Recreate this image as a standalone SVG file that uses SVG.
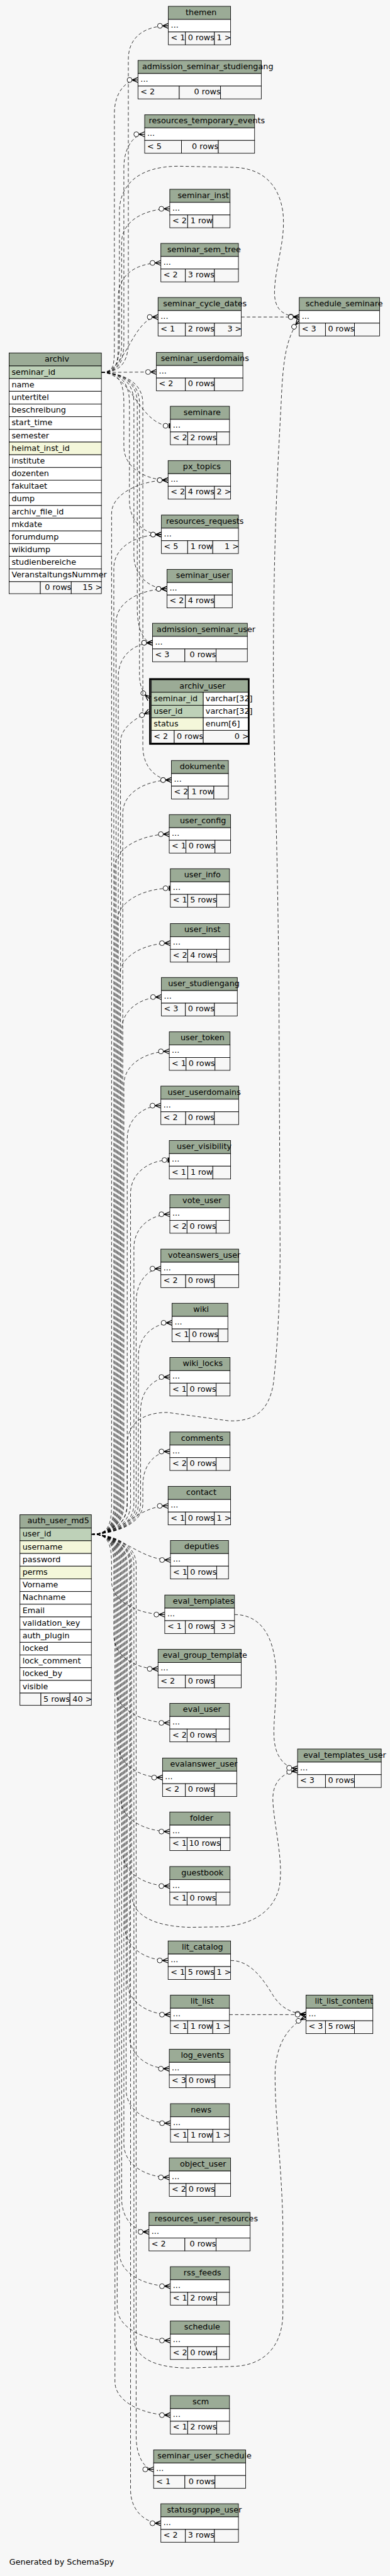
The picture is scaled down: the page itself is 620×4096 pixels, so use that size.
<svg xmlns="http://www.w3.org/2000/svg" width="620" height="4096" viewBox="0 0 620 4096">
<style>
.h{fill:#9bab96;stroke:#000;stroke-width:1}
.w{fill:#fff;stroke:#000;stroke-width:1}
.f{fill:#f7f7f7;stroke:#000;stroke-width:1}
.pk{fill:#bed1b8;stroke:#000;stroke-width:1}
.ix{fill:#f4f7da;stroke:#000;stroke-width:1}
text{font-family:"DejaVu Sans","Liberation Sans",sans-serif;font-size:14.4px;fill:#000}
.m{text-anchor:middle}
.e{text-anchor:end}
.c{fill:none;stroke:#000;stroke-width:0.9;stroke-dasharray:6 4}
.cr{marker-end:url(#crow)}
.on{marker-end:url(#one)}
</style>
<defs>
<marker id="crow" markerUnits="userSpaceOnUse" viewBox="-21 -6 22 12" markerWidth="22" markerHeight="12" refX="0" refY="0" orient="auto">
<circle cx="-15" cy="0" r="4.4" fill="#fff" stroke="#000" stroke-width="1"/>
<path d="M-10.5 0 L0 -4.5 M-10.5 0 L0 0 M-10.5 0 L0 4.5" fill="none" stroke="#000" stroke-width="1.4"/>
</marker>
<marker id="one" markerUnits="userSpaceOnUse" viewBox="-14 -6 15 12" markerWidth="15" markerHeight="12" refX="0" refY="0" orient="auto">
<circle cx="-8.6" cy="0" r="4.4" fill="#fff" stroke="#000" stroke-width="1"/>
<rect x="-3" y="-4.5" width="3" height="9" fill="#000"/>
</marker>
</defs>
<rect x="0" y="0" width="620" height="4096" fill="#f7f7f7"/>
<g transform="scale(0.887)">
<g id="connectors">
<path class="c cr" d="M181.7 667.7 C209.7 667.7 230 655.7 230 612.7 L230 106.3 C230 68.3 256.7 46.3 301.7 46.3"/>
<path class="c cr" d="M181.7 667.7 C205 667.7 205 655.7 205 612.7 L205 203.3 C205 165.3 226 143.3 247.3 143.3"/>
<path class="c cr" d="M181.7 667.7 C208 667.7 222 655.7 222 612.7 L222 300.7 C222 262.7 240.7 240.7 259.3 240.7"/>
<path class="c cr" d="M181.7 667.7 C208 667.7 218 655.7 218 612.7 L218 434.3 C218 396.3 259.3 374.3 304.3 374.3"/>
<path class="c cr" d="M181.7 667.7 C208 667.7 212 655.7 212 612.7 L212 531.3 C212 493.3 243.3 471.3 288.3 471.3"/>
<path class="c cr" d="M181.7 667.7 C225 667.7 238 568.3 283.3 568.3"/>
<path class="c cr" d="M181.7 667.7 L280.3 666.7"/>
<path class="c cr" d="M181.7 667.7 C205 667.7 214 655 214 612 L214 380 C214 330 250 298 320 298 L420 300 C470 302 500 330 507 380 C513 430 492 480 492 525 C492 552 505 567 536.3 568.3"/>
<path class="c on" d="M181.7 667.7 C235 667.7 250 763.3 305.3 763.3"/>
<path class="c cr" d="M181.7 667.7 C209.7 667.7 222 679.7 222 722.7 L222 800.7 C222 838.7 261.7 860.7 301.3 860.7"/>
<path class="c cr" d="M181.7 667.7 C209.7 667.7 232 679.7 232 722.7 L232 898.3 C232 936.3 260.7 958.3 289.3 958.3"/>
<path class="c cr" d="M181.7 667.7 C209.7 667.7 240 679.7 240 722.7 L240 995.7 C240 1033.7 269.7 1055.7 299.3 1055.7"/>
<path class="c cr" d="M181.7 667.7 C209.7 667.7 246 679.7 246 722.7 L246 1092.3 C246 1130.3 259.7 1152.3 273.3 1152.3"/>
<path class="c cr" d="M181.7 667.7 C209.7 667.7 250 679.7 250 722.7 L250 1210 C250 1230 256 1242 268 1252.7"/>
<path class="c cr" d="M181.7 667.7 C209.7 667.7 256 679.7 256 722.7 L256 1338.3 C256 1376.3 281.7 1398.3 307.3 1398.3"/>
<path class="c cr" d="M163.7 2750.3 C191.7 2750.3 200 2738.3 200 2695.3 L200 920.7 C200 882.7 256.3 860.7 301.3 860.7"/>
<path class="c cr" d="M163.7 2750.3 C191.7 2750.3 204 2738.3 204 2695.3 L204 1018.3 C204 980.3 244.3 958.3 289.3 958.3"/>
<path class="c cr" d="M163.7 2750.3 C191.7 2750.3 208 2738.3 208 2695.3 L208 1115.7 C208 1077.7 254.3 1055.7 299.3 1055.7"/>
<path class="c cr" d="M163.7 2750.3 C191.7 2750.3 212 2738.3 212 2695.3 L212 1212.3 C212 1174.3 242.6 1152.3 273.3 1152.3"/>
<path class="c cr" d="M163.7 2750.3 C191.7 2750.3 216 2738.3 216 2695.3 L216 1330 C216 1305 242 1288 268 1275.5"/>
<path class="c cr" d="M163.7 2750.3 C191.7 2750.3 220 2738.3 220 2695.3 L220 1458.3 C220 1420.3 262.3 1398.3 307.3 1398.3"/>
<path class="c cr" d="M163.7 2750.3 C191.7 2750.3 206 2738.3 206 2695.3 L206 1555.3 C206 1517.3 258.3 1495.3 303.3 1495.3"/>
<path class="c on" d="M163.7 2750.3 C191.7 2750.3 210 2738.3 210 2695.3 L210 1652.3 C210 1614.3 260.3 1592.3 305.3 1592.3"/>
<path class="c cr" d="M163.7 2750.3 C191.7 2750.3 214 2738.3 214 2695.3 L214 1750.7 C214 1712.7 260.3 1690.7 305.3 1690.7"/>
<path class="c cr" d="M163.7 2750.3 C191.7 2750.3 218 2738.3 218 2695.3 L218 1847.3 C218 1809.3 253.7 1787.3 289.3 1787.3"/>
<path class="c cr" d="M163.7 2750.3 C191.7 2750.3 222 2738.3 222 2695.3 L222 1944.7 C222 1906.7 262.7 1884.7 303.4 1884.7"/>
<path class="c cr" d="M163.7 2750.3 C191.7 2750.3 228 2738.3 228 2695.3 L228 2042 C228 2004 258.2 1982 288.3 1982"/>
<path class="c on" d="M163.7 2750.3 C191.7 2750.3 234 2738.3 234 2695.3 L234 2139.5 C234 2101.5 268.7 2079.5 303.4 2079.5"/>
<path class="c cr" d="M163.7 2750.3 C191.7 2750.3 240 2738.3 240 2695.3 L240 2236.7 C240 2198.7 272.2 2176.7 304.4 2176.7"/>
<path class="c cr" d="M163.7 2750.3 C191.7 2750.3 244 2738.3 244 2695.3 L244 2334.2 C244 2296.2 266.2 2274.2 288.3 2274.2"/>
<path class="c cr" d="M163.7 2750.3 C191.7 2750.3 248 2738.3 248 2695.3 L248 2431.3 C248 2393.3 278.2 2371.3 308.3 2371.3"/>
<path class="c cr" d="M163.7 2750.3 C191.7 2750.3 252 2738.3 252 2695.3 L252 2528.5 C252 2490.5 278.2 2468.5 304.4 2468.5"/>
<path class="c cr" d="M163.7 2750.3 C191.7 2750.3 256 2738.3 256 2695.3 L256 2662 C256 2624 280.2 2602 304.4 2602"/>
<path class="c cr" d="M163.7 2750.3 C220 2750.3 245 2699.5 301.3 2699.5"/>
<path class="c cr" d="M163.7 2750.3 C191.7 2750.3 228 2738 228 2695 L228 2590 C228 2550 258 2532 300 2532 L410 2547 C455 2549 482 2530 490 2480 C497 2420 502 2330 502 2240 L500 1800 C498 1500 490 1350 490 1200 C490 950 500 800 504 720 C507 650 512 605 536.3 574"/>
<path class="c cr" d="M163.7 2750.3 C220 2750.3 250 2796.5 305.5 2796.5"/>
<path class="c cr" d="M163.7 2750.3 C191.7 2750.3 200 2762.3 200 2805.3 L200 2834.3 C200 2872.3 250.3 2894.3 295.3 2894.3"/>
<path class="c cr" d="M163.7 2750.3 C191.7 2750.3 204 2762.3 204 2805.3 L204 2931.7 C204 2969.7 243.7 2991.7 283.3 2991.7"/>
<path class="c cr" d="M163.7 2750.3 C191.7 2750.3 208 2762.3 208 2805.3 L208 3028.5 C208 3066.5 259.3 3088.5 304.3 3088.5"/>
<path class="c cr" d="M163.7 2750.3 C191.7 2750.3 212 2762.3 212 2805.3 L212 3126.5 C212 3164.5 251.7 3186.5 291.3 3186.5"/>
<path class="c cr" d="M163.7 2750.3 C191.7 2750.3 216 2762.3 216 2805.3 L216 3223.3 C216 3261.3 260.2 3283.3 304.3 3283.3"/>
<path class="c cr" d="M163.7 2750.3 C191.7 2750.3 220 2762.3 220 2805.3 L220 3321 C220 3359 262.2 3381 304.3 3381"/>
<path class="c cr" d="M163.7 2750.3 C191.7 2750.3 236 2762.3 236 2805.3 L236 3395 C236 3435 278 3453 340 3455 L400 3454 C455 3450 490 3425 500 3385 C510 3340 490 3270 489 3225 C489 3195 505 3178 533.3 3174"/>
<path class="c cr" d="M163.7 2750.3 C191.7 2750.3 224 2762.3 224 2805.3 L224 3454.4 C224 3492.4 262.7 3514.4 301.3 3514.4"/>
<path class="c cr" d="M163.7 2750.3 C191.7 2750.3 228 2762.3 228 2805.3 L228 3551.5 C228 3589.5 266.7 3611.5 305.4 3611.5"/>
<path class="c cr" d="M163.7 2750.3 C191.7 2750.3 240 2762.3 240 2805.3 L240 4190 C240 4230 284 4245 340 4245 L420 4242 C470 4240 505 4210 507 4150 L507 3990 C505 3880 493 3800 493 3720 C493 3675 510 3635 548.4 3616"/>
<path class="c cr" d="M163.7 2750.3 C191.7 2750.3 232 2762.3 232 2805.3 L232 3648.5 C232 3686.5 267.7 3708.5 303.4 3708.5"/>
<path class="c cr" d="M163.7 2750.3 C191.7 2750.3 226 2762.3 226 2805.3 L226 3746.1 C226 3784.1 265.8 3806.1 305.5 3806.1"/>
<path class="c cr" d="M163.7 2750.3 C191.7 2750.3 222 2762.3 222 2805.3 L222 3843.3 C222 3881.3 262.7 3903.3 303.4 3903.3"/>
<path class="c cr" d="M163.7 2750.3 C191.7 2750.3 218 2762.3 218 2805.3 L218 3941 C218 3979 242.5 4001 267 4001"/>
<path class="c cr" d="M163.7 2750.3 C191.7 2750.3 214 2762.3 214 2805.3 L214 4038.3 C214 4076.3 260.3 4098.3 305.3 4098.3"/>
<path class="c cr" d="M163.7 2750.3 C191.7 2750.3 210 2762.3 210 2805.3 L210 4135.7 C210 4173.7 260.3 4195.7 305.3 4195.7"/>
<path class="c cr" d="M163.7 2750.3 C191.7 2750.3 206 2762.3 206 2805.3 L206 4269.4 C206 4307.4 260.3 4329.4 305.3 4329.4"/>
<path class="c cr" d="M163.7 2750.3 C191.7 2750.3 244 2762.3 244 2805.3 L244 4366.7 C244 4404.7 259.7 4426.7 275.3 4426.7"/>
<path class="c cr" d="M163.7 2750.3 C191.7 2750.3 234 2762.3 234 2805.3 L234 4463.3 C234 4501.3 261.2 4523.3 288.3 4523.3"/>
<path class="c cr" d="M432.3 568.3 L536.3 568.3"/>
<path class="c cr" d="M420.3 2894.3 C468 2894.3 495 2935 495 3010 C495 3075 484 3115 498 3145 C506 3160 515 3169 533.3 3170"/>
<path class="c cr" d="M413.3 3514.4 C448 3514.4 470 3545 490 3578 C503 3598 520 3609 548.4 3611"/>
<path class="c cr" d="M411.2 3611.5 L548.4 3611.5"/>
</g>

<g id="archiv">
<rect class="h" x="16.3" y="632.7" width="165.4" height="23.3"/>
<text class="m" x="102" y="648.5">archiv</text>
<rect class="pk" x="16.3" y="656" width="165.4" height="22.75"/>
<rect class="w" x="16.3" y="678.75" width="165.4" height="22.75"/>
<rect class="w" x="16.3" y="701.5" width="165.4" height="22.75"/>
<rect class="w" x="16.3" y="724.25" width="165.4" height="22.75"/>
<rect class="w" x="16.3" y="747" width="165.4" height="22.75"/>
<rect class="w" x="16.3" y="769.75" width="165.4" height="22.75"/>
<rect class="ix" x="16.3" y="792.5" width="165.4" height="22.75"/>
<rect class="w" x="16.3" y="815.25" width="165.4" height="22.75"/>
<rect class="w" x="16.3" y="838" width="165.4" height="22.75"/>
<rect class="w" x="16.3" y="860.75" width="165.4" height="22.75"/>
<rect class="w" x="16.3" y="883.5" width="165.4" height="22.75"/>
<rect class="w" x="16.3" y="906.25" width="165.4" height="22.75"/>
<rect class="w" x="16.3" y="929" width="165.4" height="22.75"/>
<rect class="w" x="16.3" y="951.75" width="165.4" height="22.75"/>
<rect class="w" x="16.3" y="974.5" width="165.4" height="22.75"/>
<rect class="w" x="16.3" y="997.25" width="165.4" height="22.75"/>
<rect class="w" x="16.3" y="1020" width="165.4" height="22.75"/>
<rect class="f" x="16.3" y="1042.75" width="56" height="21.5"/>
<rect class="f" x="72.3" y="1042.75" width="55.4" height="21.5"/>
<rect class="f" x="127.7" y="1042.75" width="54" height="21.5"/>
<text x="20.8" y="671.5">seminar_id</text>
<text x="20.8" y="694.25">name</text>
<text x="20.8" y="717">untertitel</text>
<text x="20.8" y="739.75">beschreibung</text>
<text x="20.8" y="762.5">start_time</text>
<text x="20.8" y="785.25">semester</text>
<text x="20.8" y="808">heimat_inst_id</text>
<text x="20.8" y="830.75">institute</text>
<text x="20.8" y="853.5">dozenten</text>
<text x="20.8" y="876.25">fakultaet</text>
<text x="20.8" y="899">dump</text>
<text x="20.8" y="921.75">archiv_file_id</text>
<text x="20.8" y="944.5">mkdate</text>
<text x="20.8" y="967.25">forumdump</text>
<text x="20.8" y="990">wikidump</text>
<text x="20.8" y="1012.75">studienbereiche</text>
<text x="20.8" y="1035.5">VeranstaltungsNummer</text>
<text class="e" x="127.7" y="1058">0 rows</text>
<text class="e" x="183" y="1058">15 &gt;</text>
</g>

<g id="auth_user_md5">
<rect class="h" x="35.7" y="2715.3" width="128" height="24"/>
<text class="m" x="104.5" y="2731">auth_user_md5</text>
<rect class="pk" x="35.7" y="2739.3" width="128" height="22.75"/>
<rect class="ix" x="35.7" y="2762.05" width="128" height="22.75"/>
<rect class="w" x="35.7" y="2784.8" width="128" height="22.75"/>
<rect class="ix" x="35.7" y="2807.55" width="128" height="22.75"/>
<rect class="w" x="35.7" y="2830.3" width="128" height="22.75"/>
<rect class="w" x="35.7" y="2853.05" width="128" height="22.75"/>
<rect class="w" x="35.7" y="2875.8" width="128" height="22.75"/>
<rect class="w" x="35.7" y="2898.55" width="128" height="22.75"/>
<rect class="w" x="35.7" y="2921.3" width="128" height="22.75"/>
<rect class="w" x="35.7" y="2944.05" width="128" height="22.75"/>
<rect class="w" x="35.7" y="2966.8" width="128" height="22.75"/>
<rect class="w" x="35.7" y="2989.55" width="128" height="22.75"/>
<rect class="w" x="35.7" y="3012.3" width="128" height="22.75"/>
<rect class="f" x="35.7" y="3035.05" width="37.6" height="22"/>
<rect class="f" x="73.3" y="3035.05" width="52" height="22"/>
<rect class="f" x="125.3" y="3035.05" width="38.4" height="22"/>
<text x="40.2" y="2754.8">user_id</text>
<text x="40.2" y="2777.55">username</text>
<text x="40.2" y="2800.3">password</text>
<text x="40.2" y="2823.05">perms</text>
<text x="40.2" y="2845.8">Vorname</text>
<text x="40.2" y="2868.55">Nachname</text>
<text x="40.2" y="2891.3">Email</text>
<text x="40.2" y="2914.05">validation_key</text>
<text x="40.2" y="2936.8">auth_plugin</text>
<text x="40.2" y="2959.55">locked</text>
<text x="40.2" y="2982.3">lock_comment</text>
<text x="40.2" y="3005.05">locked_by</text>
<text x="40.2" y="3027.8">visible</text>
<text class="e" x="125.3" y="3050.5">5 rows</text>
<text class="e" x="165" y="3050.5">40 &gt;</text>
</g>

<g id="archiv_user">
<rect class="h" x="271.3" y="1218.7" width="174" height="22.3" stroke="none"/>
<rect class="pk" x="271.3" y="1241" width="93" height="23.3"/>
<rect class="w" x="364.3" y="1241" width="81" height="23.3"/>
<rect class="pk" x="271.3" y="1264.3" width="93" height="22.4"/>
<rect class="w" x="364.3" y="1264.3" width="81" height="22.4"/>
<rect class="ix" x="271.3" y="1286.7" width="93" height="22.6"/>
<rect class="w" x="364.3" y="1286.7" width="81" height="22.6"/>
<rect class="f" x="271.3" y="1309.3" width="41" height="22.7"/>
<rect class="f" x="312.3" y="1309.3" width="52" height="22.7"/>
<rect class="f" x="364.3" y="1309.3" width="81" height="22.7"/>
<rect x="268.8" y="1217.2" width="177" height="116.3" fill="none" stroke="#000" stroke-width="3"/>
<text class="m" x="363" y="1234">archiv_user</text>
<text x="275.5" y="1257">seminar_id</text>
<text x="368.5" y="1257">varchar[32]</text>
<text x="275.5" y="1280">user_id</text>
<text x="368.5" y="1280">varchar[32]</text>
<text x="275.5" y="1302.5">status</text>
<text x="368.5" y="1302.5">enum[6]</text>
<text x="275.5" y="1325">&lt; 2</text>
<text class="e" x="364.3" y="1325">0 rows</text>
<text class="e" x="446" y="1325">0 &gt;</text>
</g>

<g id="themen">
<rect class="h" x="301.7" y="11.3" width="111.6" height="23.5"/>
<rect class="w" x="301.7" y="34.8" width="111.6" height="22.5"/>
<rect class="f" x="301.7" y="57.3" width="30.6" height="23"/>
<rect class="f" x="332.3" y="57.3" width="52" height="23"/>
<rect class="f" x="384.3" y="57.3" width="29" height="23"/>
<text class="m" x="360.5" y="26.8">themen</text>
<text x="306.2" y="49.3">...</text>
<text x="306.2" y="72.3">&lt; 1</text>
<text class="e" x="384.3" y="72.3">0 rows</text>
<text class="e" x="414.3" y="72.3">1 &gt;</text>
</g>

<g id="admission_seminar_studiengang">
<rect class="h" x="247.3" y="108.3" width="221" height="23.5"/>
<rect class="w" x="247.3" y="131.8" width="221" height="22.5"/>
<rect class="f" x="247.3" y="154.3" width="74" height="23"/>
<rect class="f" x="321.3" y="154.3" width="74" height="23"/>
<rect class="f" x="395.3" y="154.3" width="73" height="23"/>
<text class="m" x="372.3" y="123.8">admission_seminar_studiengang</text>
<text x="251.8" y="146.3">...</text>
<text x="251.8" y="169.3">&lt; 2</text>
<text class="e" x="395.3" y="169.3">0 rows</text>
</g>

<g id="resources_temporary_events">
<rect class="h" x="259.3" y="205.7" width="197" height="23.5"/>
<rect class="w" x="259.3" y="229.2" width="197" height="22.5"/>
<rect class="f" x="259.3" y="251.7" width="66" height="23"/>
<rect class="f" x="325.3" y="251.7" width="66" height="23"/>
<rect class="f" x="391.3" y="251.7" width="65" height="23"/>
<text class="m" x="370.8" y="221.2">resources_temporary_events</text>
<text x="263.8" y="243.7">...</text>
<text x="263.8" y="266.7">&lt; 5</text>
<text class="e" x="391.3" y="266.7">0 rows</text>
</g>

<g id="seminar_inst">
<rect class="h" x="304.3" y="339.3" width="108" height="23.5"/>
<rect class="w" x="304.3" y="362.8" width="108" height="22.5"/>
<rect class="f" x="304.3" y="385.3" width="32" height="23"/>
<rect class="f" x="336.3" y="385.3" width="45" height="23"/>
<rect class="f" x="381.3" y="385.3" width="31" height="23"/>
<text class="m" x="364.3" y="354.8">seminar_inst</text>
<text x="308.8" y="377.3">...</text>
<text x="308.8" y="400.3">&lt; 2</text>
<text class="e" x="381.3" y="400.3">1 row</text>
</g>

<g id="seminar_sem_tree">
<rect class="h" x="288.3" y="436.3" width="139" height="23.5"/>
<rect class="w" x="288.3" y="459.8" width="139" height="22.5"/>
<rect class="f" x="288.3" y="482.3" width="44" height="23"/>
<rect class="f" x="332.3" y="482.3" width="52" height="23"/>
<rect class="f" x="384.3" y="482.3" width="43" height="23"/>
<text class="m" x="365.8" y="451.8">seminar_sem_tree</text>
<text x="292.8" y="474.3">...</text>
<text x="292.8" y="497.3">&lt; 2</text>
<text class="e" x="384.3" y="497.3">3 rows</text>
</g>

<g id="seminar_cycle_dates">
<rect class="h" x="283.3" y="533.3" width="149" height="23.5"/>
<rect class="w" x="283.3" y="556.8" width="149" height="22.5"/>
<rect class="f" x="283.3" y="579.3" width="49" height="23"/>
<rect class="f" x="332.3" y="579.3" width="52" height="23"/>
<rect class="f" x="384.3" y="579.3" width="48" height="23"/>
<text class="m" x="367.3" y="548.8">seminar_cycle_dates</text>
<text x="287.8" y="571.3">...</text>
<text x="287.8" y="594.3">&lt; 1</text>
<text class="e" x="384.3" y="594.3">2 rows</text>
<text class="e" x="433.3" y="594.3">3 &gt;</text>
</g>

<g id="schedule_seminare">
<rect class="h" x="536.3" y="533.3" width="144" height="23.5"/>
<rect class="w" x="536.3" y="556.8" width="144" height="22.5"/>
<rect class="f" x="536.3" y="579.3" width="47" height="23"/>
<rect class="f" x="583.3" y="579.3" width="52" height="23"/>
<rect class="f" x="635.3" y="579.3" width="45" height="23"/>
<text class="m" x="616.8" y="548.8">schedule_seminare</text>
<text x="540.8" y="571.3">...</text>
<text x="540.8" y="594.3">&lt; 3</text>
<text class="e" x="635.3" y="594.3">0 rows</text>
</g>

<g id="seminar_userdomains">
<rect class="h" x="280.3" y="631.7" width="155" height="23.5"/>
<rect class="w" x="280.3" y="655.2" width="155" height="22.5"/>
<rect class="f" x="280.3" y="677.7" width="52" height="23"/>
<rect class="f" x="332.3" y="677.7" width="52" height="23"/>
<rect class="f" x="384.3" y="677.7" width="51" height="23"/>
<text class="m" x="367.3" y="647.2">seminar_userdomains</text>
<text x="284.8" y="669.7">...</text>
<text x="284.8" y="692.7">&lt; 2</text>
<text class="e" x="384.3" y="692.7">0 rows</text>
</g>

<g id="seminare">
<rect class="h" x="305.3" y="728.3" width="106" height="23.5"/>
<rect class="w" x="305.3" y="751.8" width="106" height="22.5"/>
<rect class="f" x="305.3" y="774.3" width="31" height="23"/>
<rect class="f" x="336.3" y="774.3" width="52" height="23"/>
<rect class="f" x="388.3" y="774.3" width="23" height="23"/>
<text class="m" x="362.3" y="743.8">seminare</text>
<text x="309.8" y="766.3">...</text>
<text x="309.8" y="789.3">&lt; 2</text>
<text class="e" x="388.3" y="789.3">2 rows</text>
</g>

<g id="px_topics">
<rect class="h" x="301.3" y="825.7" width="112" height="23.5"/>
<rect class="w" x="301.3" y="849.2" width="112" height="22.5"/>
<rect class="f" x="301.3" y="871.7" width="31" height="23"/>
<rect class="f" x="332.3" y="871.7" width="52" height="23"/>
<rect class="f" x="384.3" y="871.7" width="29" height="23"/>
<text class="m" x="361.8" y="841.2">px_topics</text>
<text x="305.8" y="863.7">...</text>
<text x="305.8" y="886.7">&lt; 2</text>
<text class="e" x="384.3" y="886.7">4 rows</text>
<text class="e" x="414.3" y="886.7">2 &gt;</text>
</g>

<g id="resources_requests">
<rect class="h" x="289.3" y="923.3" width="138" height="23.5"/>
<rect class="w" x="289.3" y="946.8" width="138" height="22.5"/>
<rect class="f" x="289.3" y="969.3" width="47" height="23"/>
<rect class="f" x="336.3" y="969.3" width="45" height="23"/>
<rect class="f" x="381.3" y="969.3" width="46" height="23"/>
<text class="m" x="367.3" y="938.8">resources_requests</text>
<text x="293.8" y="961.3">...</text>
<text x="293.8" y="984.3">&lt; 5</text>
<text class="e" x="381.3" y="984.3">1 row</text>
<text class="e" x="428.3" y="984.3">1 &gt;</text>
</g>

<g id="seminar_user">
<rect class="h" x="299.3" y="1020.7" width="117" height="23.5"/>
<rect class="w" x="299.3" y="1044.2" width="117" height="22.5"/>
<rect class="f" x="299.3" y="1066.7" width="33" height="23"/>
<rect class="f" x="332.3" y="1066.7" width="52" height="23"/>
<rect class="f" x="384.3" y="1066.7" width="32" height="23"/>
<text class="m" x="363.8" y="1036.2">seminar_user</text>
<text x="303.8" y="1058.7">...</text>
<text x="303.8" y="1081.7">&lt; 2</text>
<text class="e" x="384.3" y="1081.7">4 rows</text>
</g>

<g id="admission_seminar_user">
<rect class="h" x="273.3" y="1117.3" width="170" height="23.5"/>
<rect class="w" x="273.3" y="1140.8" width="170" height="22.5"/>
<rect class="f" x="273.3" y="1163.3" width="58" height="23"/>
<rect class="f" x="331.3" y="1163.3" width="56" height="23"/>
<rect class="f" x="387.3" y="1163.3" width="56" height="23"/>
<text class="m" x="369.3" y="1132.8">admission_seminar_user</text>
<text x="277.8" y="1155.3">...</text>
<text x="277.8" y="1178.3">&lt; 3</text>
<text class="e" x="387.3" y="1178.3">0 rows</text>
</g>

<g id="dokumente">
<rect class="h" x="307.3" y="1363.3" width="102" height="23.5"/>
<rect class="w" x="307.3" y="1386.8" width="102" height="22.5"/>
<rect class="f" x="307.3" y="1409.3" width="30" height="23"/>
<rect class="f" x="337.3" y="1409.3" width="46" height="23"/>
<rect class="f" x="383.3" y="1409.3" width="26" height="23"/>
<text class="m" x="362.8" y="1378.8">dokumente</text>
<text x="311.8" y="1401.3">...</text>
<text x="311.8" y="1424.3">&lt; 2</text>
<text class="e" x="383.3" y="1424.3">1 row</text>
</g>

<g id="user_config">
<rect class="h" x="303.3" y="1460.3" width="110" height="23.5"/>
<rect class="w" x="303.3" y="1483.8" width="110" height="22.5"/>
<rect class="f" x="303.3" y="1506.3" width="30" height="23"/>
<rect class="f" x="333.3" y="1506.3" width="52" height="23"/>
<rect class="f" x="385.3" y="1506.3" width="28" height="23"/>
<text class="m" x="363.8" y="1475.8">user_config</text>
<text x="307.8" y="1498.3">...</text>
<text x="307.8" y="1521.3">&lt; 1</text>
<text class="e" x="385.3" y="1521.3">0 rows</text>
</g>

<g id="user_info">
<rect class="h" x="305.3" y="1557.3" width="106" height="23.5"/>
<rect class="w" x="305.3" y="1580.8" width="106" height="22.5"/>
<rect class="f" x="305.3" y="1603.3" width="31" height="23"/>
<rect class="f" x="336.3" y="1603.3" width="52" height="23"/>
<rect class="f" x="388.3" y="1603.3" width="23" height="23"/>
<text class="m" x="362.8" y="1572.8">user_info</text>
<text x="309.8" y="1595.3">...</text>
<text x="309.8" y="1618.3">&lt; 1</text>
<text class="e" x="388.3" y="1618.3">5 rows</text>
</g>

<g id="user_inst">
<rect class="h" x="305.3" y="1655.7" width="106" height="23.5"/>
<rect class="w" x="305.3" y="1679.2" width="106" height="22.5"/>
<rect class="f" x="305.3" y="1701.7" width="31" height="23"/>
<rect class="f" x="336.3" y="1701.7" width="52" height="23"/>
<rect class="f" x="388.3" y="1701.7" width="23" height="23"/>
<text class="m" x="362.8" y="1671.2">user_inst</text>
<text x="309.8" y="1693.7">...</text>
<text x="309.8" y="1716.7">&lt; 2</text>
<text class="e" x="388.3" y="1716.7">4 rows</text>
</g>

<g id="user_studiengang">
<rect class="h" x="289.3" y="1752.3" width="136" height="23.5"/>
<rect class="w" x="289.3" y="1775.8" width="136" height="22.5"/>
<rect class="f" x="289.3" y="1798.3" width="43" height="23"/>
<rect class="f" x="332.3" y="1798.3" width="52" height="23"/>
<rect class="f" x="384.3" y="1798.3" width="41" height="23"/>
<text class="m" x="365.3" y="1767.8">user_studiengang</text>
<text x="293.8" y="1790.3">...</text>
<text x="293.8" y="1813.3">&lt; 3</text>
<text class="e" x="384.3" y="1813.3">0 rows</text>
</g>

<g id="user_token">
<rect class="h" x="303.4" y="1849.7" width="108.9" height="23.5"/>
<rect class="w" x="303.4" y="1873.2" width="108.9" height="22.5"/>
<rect class="f" x="303.4" y="1895.7" width="30.1" height="23"/>
<rect class="f" x="333.5" y="1895.7" width="51.8" height="23"/>
<rect class="f" x="385.3" y="1895.7" width="27" height="23"/>
<text class="m" x="362.9" y="1865.2">user_token</text>
<text x="307.9" y="1887.7">...</text>
<text x="307.9" y="1910.7">&lt; 1</text>
<text class="e" x="385.3" y="1910.7">0 rows</text>
</g>

<g id="user_userdomains">
<rect class="h" x="288.3" y="1947" width="139.4" height="23.5"/>
<rect class="w" x="288.3" y="1970.5" width="139.4" height="22.5"/>
<rect class="f" x="288.3" y="1993" width="44.5" height="23"/>
<rect class="f" x="332.8" y="1993" width="51.4" height="23"/>
<rect class="f" x="384.2" y="1993" width="43.5" height="23"/>
<text class="m" x="366" y="1962.5">user_userdomains</text>
<text x="292.8" y="1985">...</text>
<text x="292.8" y="2008">&lt; 2</text>
<text class="e" x="384.2" y="2008">0 rows</text>
</g>

<g id="user_visibility">
<rect class="h" x="303.4" y="2044.5" width="109.9" height="23.5"/>
<rect class="w" x="303.4" y="2068" width="109.9" height="22.5"/>
<rect class="f" x="303.4" y="2090.5" width="33.2" height="23"/>
<rect class="f" x="336.6" y="2090.5" width="44.8" height="23"/>
<rect class="f" x="381.4" y="2090.5" width="31.9" height="23"/>
<text class="m" x="365.9" y="2060">user_visibility</text>
<text x="307.9" y="2082.5">...</text>
<text x="307.9" y="2105.5">&lt; 1</text>
<text class="e" x="381.4" y="2105.5">1 row</text>
</g>

<g id="vote_user">
<rect class="h" x="304.4" y="2141.7" width="106.8" height="23.5"/>
<rect class="w" x="304.4" y="2165.2" width="106.8" height="22.5"/>
<rect class="f" x="304.4" y="2187.7" width="30.8" height="23"/>
<rect class="f" x="335.2" y="2187.7" width="52.2" height="23"/>
<rect class="f" x="387.4" y="2187.7" width="23.8" height="23"/>
<text class="m" x="362.3" y="2157.2">vote_user</text>
<text x="308.9" y="2179.7">...</text>
<text x="308.9" y="2202.7">&lt; 2</text>
<text class="e" x="387.4" y="2202.7">0 rows</text>
</g>

<g id="voteanswers_user">
<rect class="h" x="288.3" y="2239.2" width="139.4" height="23.5"/>
<rect class="w" x="288.3" y="2262.7" width="139.4" height="22.5"/>
<rect class="f" x="288.3" y="2285.2" width="44.5" height="23"/>
<rect class="f" x="332.8" y="2285.2" width="51.4" height="23"/>
<rect class="f" x="384.2" y="2285.2" width="43.5" height="23"/>
<text class="m" x="366" y="2254.7">voteanswers_user</text>
<text x="292.8" y="2277.2">...</text>
<text x="292.8" y="2300.2">&lt; 2</text>
<text class="e" x="384.2" y="2300.2">0 rows</text>
</g>

<g id="wiki">
<rect class="h" x="308.3" y="2336.3" width="100.1" height="23.5"/>
<rect class="w" x="308.3" y="2359.8" width="100.1" height="22.5"/>
<rect class="f" x="308.3" y="2382.3" width="31.1" height="23"/>
<rect class="f" x="339.4" y="2382.3" width="51.8" height="23"/>
<rect class="f" x="391.2" y="2382.3" width="17.2" height="23"/>
<text class="m" x="360.4" y="2351.8">wiki</text>
<text x="312.8" y="2374.3">...</text>
<text x="312.8" y="2397.3">&lt; 1</text>
<text class="e" x="391.2" y="2397.3">0 rows</text>
</g>

<g id="wiki_locks">
<rect class="h" x="304.4" y="2433.5" width="107.9" height="23.5"/>
<rect class="w" x="304.4" y="2457" width="107.9" height="22.5"/>
<rect class="f" x="304.4" y="2479.5" width="30.8" height="23"/>
<rect class="f" x="335.2" y="2479.5" width="52.2" height="23"/>
<rect class="f" x="387.4" y="2479.5" width="24.9" height="23"/>
<text class="m" x="363.4" y="2449">wiki_locks</text>
<text x="308.9" y="2471.5">...</text>
<text x="308.9" y="2494.5">&lt; 1</text>
<text class="e" x="387.4" y="2494.5">0 rows</text>
</g>

<g id="comments">
<rect class="h" x="304.4" y="2567" width="107.9" height="23.5"/>
<rect class="w" x="304.4" y="2590.5" width="107.9" height="22.5"/>
<rect class="f" x="304.4" y="2613" width="30.8" height="23"/>
<rect class="f" x="335.2" y="2613" width="52.2" height="23"/>
<rect class="f" x="387.4" y="2613" width="24.9" height="23"/>
<text class="m" x="362.4" y="2582.5">comments</text>
<text x="308.9" y="2605">...</text>
<text x="308.9" y="2628">&lt; 2</text>
<text class="e" x="387.4" y="2628">0 rows</text>
</g>

<g id="contact">
<rect class="h" x="301.3" y="2664.5" width="112" height="23.5"/>
<rect class="w" x="301.3" y="2688" width="112" height="22.5"/>
<rect class="f" x="301.3" y="2710.5" width="31.1" height="23"/>
<rect class="f" x="332.4" y="2710.5" width="51.8" height="23"/>
<rect class="f" x="384.2" y="2710.5" width="29.1" height="23"/>
<text class="m" x="360.8" y="2680">contact</text>
<text x="305.8" y="2702.5">...</text>
<text x="305.8" y="2725.5">&lt; 1</text>
<text class="e" x="384.2" y="2725.5">0 rows</text>
<text class="e" x="414.3" y="2725.5">1 &gt;</text>
</g>

<g id="deputies">
<rect class="h" x="305.5" y="2761.5" width="104" height="23.5"/>
<rect class="w" x="305.5" y="2785" width="104" height="22.5"/>
<rect class="f" x="305.5" y="2807.5" width="30.8" height="23"/>
<rect class="f" x="336.3" y="2807.5" width="52" height="23"/>
<rect class="f" x="388.3" y="2807.5" width="21.2" height="23"/>
<text class="m" x="361.5" y="2777">deputies</text>
<text x="310" y="2799.5">...</text>
<text x="310" y="2822.5">&lt; 1</text>
<text class="e" x="388.3" y="2822.5">0 rows</text>
</g>

<g id="eval_templates">
<rect class="h" x="295.3" y="2859.3" width="125" height="23.5"/>
<rect class="w" x="295.3" y="2882.8" width="125" height="22.5"/>
<rect class="f" x="295.3" y="2905.3" width="37" height="23"/>
<rect class="f" x="332.3" y="2905.3" width="52" height="23"/>
<rect class="f" x="384.3" y="2905.3" width="36" height="23"/>
<text class="m" x="364.8" y="2874.8">eval_templates</text>
<text x="299.8" y="2897.3">...</text>
<text x="299.8" y="2920.3">&lt; 1</text>
<text class="e" x="384.3" y="2920.3">0 rows</text>
<text class="e" x="421.3" y="2920.3">3 &gt;</text>
</g>

<g id="eval_group_template">
<rect class="h" x="283.3" y="2956.7" width="149" height="23.5"/>
<rect class="w" x="283.3" y="2980.2" width="149" height="22.5"/>
<rect class="f" x="283.3" y="3002.7" width="49" height="23"/>
<rect class="f" x="332.3" y="3002.7" width="52" height="23"/>
<rect class="f" x="384.3" y="3002.7" width="48" height="23"/>
<text class="m" x="367.3" y="2972.2">eval_group_template</text>
<text x="287.8" y="2994.7">...</text>
<text x="287.8" y="3017.7">&lt; 2</text>
<text class="e" x="384.3" y="3017.7">0 rows</text>
</g>

<g id="eval_user">
<rect class="h" x="304.3" y="3053.5" width="107" height="23.5"/>
<rect class="w" x="304.3" y="3077" width="107" height="22.5"/>
<rect class="f" x="304.3" y="3099.5" width="31" height="23"/>
<rect class="f" x="335.3" y="3099.5" width="52" height="23"/>
<rect class="f" x="387.3" y="3099.5" width="24" height="23"/>
<text class="m" x="362.3" y="3069">eval_user</text>
<text x="308.8" y="3091.5">...</text>
<text x="308.8" y="3114.5">&lt; 2</text>
<text class="e" x="387.3" y="3114.5">0 rows</text>
</g>

<g id="evalanswer_user">
<rect class="h" x="291.3" y="3151.5" width="133" height="23.5"/>
<rect class="w" x="291.3" y="3175" width="133" height="22.5"/>
<rect class="f" x="291.3" y="3197.5" width="41" height="23"/>
<rect class="f" x="332.3" y="3197.5" width="52" height="23"/>
<rect class="f" x="384.3" y="3197.5" width="40" height="23"/>
<text class="m" x="365.3" y="3167">evalanswer_user</text>
<text x="295.8" y="3189.5">...</text>
<text x="295.8" y="3212.5">&lt; 2</text>
<text class="e" x="384.3" y="3212.5">0 rows</text>
</g>

<g id="eval_templates_user">
<rect class="h" x="533.3" y="3135.3" width="150" height="23.5"/>
<rect class="w" x="533.3" y="3158.8" width="150" height="22.5"/>
<rect class="f" x="533.3" y="3181.3" width="50" height="23"/>
<rect class="f" x="583.3" y="3181.3" width="52" height="23"/>
<rect class="f" x="635.3" y="3181.3" width="48" height="23"/>
<text class="m" x="617.8" y="3150.8">eval_templates_user</text>
<text x="537.8" y="3173.3">...</text>
<text x="537.8" y="3196.3">&lt; 3</text>
<text class="e" x="635.3" y="3196.3">0 rows</text>
</g>

<g id="folder">
<rect class="h" x="304.3" y="3248.3" width="108" height="23.5"/>
<rect class="w" x="304.3" y="3271.8" width="108" height="22.5"/>
<rect class="f" x="304.3" y="3294.3" width="31" height="23"/>
<rect class="f" x="335.3" y="3294.3" width="60" height="23"/>
<rect class="f" x="395.3" y="3294.3" width="17" height="23"/>
<text class="m" x="361.3" y="3263.8">folder</text>
<text x="308.8" y="3286.3">...</text>
<text x="308.8" y="3309.3">&lt; 1</text>
<text class="e" x="395.3" y="3309.3">10 rows</text>
</g>

<g id="guestbook">
<rect class="h" x="304.3" y="3346" width="108" height="23.5"/>
<rect class="w" x="304.3" y="3369.5" width="108" height="22.5"/>
<rect class="f" x="304.3" y="3392" width="31" height="23"/>
<rect class="f" x="335.3" y="3392" width="52" height="23"/>
<rect class="f" x="387.3" y="3392" width="25" height="23"/>
<text class="m" x="362.8" y="3361.5">guestbook</text>
<text x="308.8" y="3384">...</text>
<text x="308.8" y="3407">&lt; 1</text>
<text class="e" x="387.3" y="3407">0 rows</text>
</g>

<g id="lit_catalog">
<rect class="h" x="301.3" y="3479.4" width="112" height="23.5"/>
<rect class="w" x="301.3" y="3502.9" width="112" height="22.5"/>
<rect class="f" x="301.3" y="3525.4" width="31" height="23"/>
<rect class="f" x="332.3" y="3525.4" width="52" height="23"/>
<rect class="f" x="384.3" y="3525.4" width="29" height="23"/>
<text class="m" x="362.8" y="3494.9">lit_catalog</text>
<text x="305.8" y="3517.4">...</text>
<text x="305.8" y="3540.4">&lt; 1</text>
<text class="e" x="384.3" y="3540.4">5 rows</text>
<text class="e" x="414.3" y="3540.4">1 &gt;</text>
</g>

<g id="lit_list">
<rect class="h" x="305.4" y="3576.5" width="105.8" height="23.5"/>
<rect class="w" x="305.4" y="3600" width="105.8" height="22.5"/>
<rect class="f" x="305.4" y="3622.5" width="30.9" height="23"/>
<rect class="f" x="336.3" y="3622.5" width="45" height="23"/>
<rect class="f" x="381.3" y="3622.5" width="29.9" height="23"/>
<text class="m" x="362.3" y="3592">lit_list</text>
<text x="309.9" y="3614.5">...</text>
<text x="309.9" y="3637.5">&lt; 1</text>
<text class="e" x="381.3" y="3637.5">1 row</text>
<text class="e" x="412.2" y="3637.5">1 &gt;</text>
</g>

<g id="lit_list_content">
<rect class="h" x="548.4" y="3576.5" width="119.8" height="23.5"/>
<rect class="w" x="548.4" y="3600" width="119.8" height="22.5"/>
<rect class="f" x="548.4" y="3622.5" width="34.9" height="23"/>
<rect class="f" x="583.3" y="3622.5" width="52" height="23"/>
<rect class="f" x="635.3" y="3622.5" width="32.9" height="23"/>
<text class="m" x="616.3" y="3592">lit_list_content</text>
<text x="552.9" y="3614.5">...</text>
<text x="552.9" y="3637.5">&lt; 3</text>
<text class="e" x="635.3" y="3637.5">5 rows</text>
</g>

<g id="log_events">
<rect class="h" x="303.4" y="3673.5" width="108.9" height="23.5"/>
<rect class="w" x="303.4" y="3697" width="108.9" height="22.5"/>
<rect class="f" x="303.4" y="3719.5" width="30.1" height="23"/>
<rect class="f" x="333.5" y="3719.5" width="51.8" height="23"/>
<rect class="f" x="385.3" y="3719.5" width="27" height="23"/>
<text class="m" x="362.9" y="3689">log_events</text>
<text x="307.9" y="3711.5">...</text>
<text x="307.9" y="3734.5">&lt; 3</text>
<text class="e" x="385.3" y="3734.5">0 rows</text>
</g>

<g id="news">
<rect class="h" x="305.5" y="3771.1" width="105.7" height="23.5"/>
<rect class="w" x="305.5" y="3794.6" width="105.7" height="22.5"/>
<rect class="f" x="305.5" y="3817.1" width="31.1" height="23"/>
<rect class="f" x="336.6" y="3817.1" width="44.8" height="23"/>
<rect class="f" x="381.4" y="3817.1" width="29.8" height="23"/>
<text class="m" x="360.4" y="3786.6">news</text>
<text x="310" y="3809.1">...</text>
<text x="310" y="3832.1">&lt; 1</text>
<text class="e" x="381.4" y="3832.1">1 row</text>
<text class="e" x="412.2" y="3832.1">1 &gt;</text>
</g>

<g id="object_user">
<rect class="h" x="303.4" y="3868.3" width="109.9" height="23.5"/>
<rect class="w" x="303.4" y="3891.8" width="109.9" height="22.5"/>
<rect class="f" x="303.4" y="3914.3" width="30.1" height="23"/>
<rect class="f" x="333.5" y="3914.3" width="51.8" height="23"/>
<rect class="f" x="385.3" y="3914.3" width="28" height="23"/>
<text class="m" x="363.9" y="3883.8">object_user</text>
<text x="307.9" y="3906.3">...</text>
<text x="307.9" y="3929.3">&lt; 2</text>
<text class="e" x="385.3" y="3929.3">0 rows</text>
</g>

<g id="resources_user_resources">
<rect class="h" x="267" y="3966" width="181.3" height="23.5"/>
<rect class="w" x="267" y="3989.5" width="181.3" height="22.5"/>
<rect class="f" x="267" y="4012" width="64.3" height="23"/>
<rect class="f" x="331.3" y="4012" width="56" height="23"/>
<rect class="f" x="387.3" y="4012" width="61" height="23"/>
<text class="m" x="369.7" y="3981.5">resources_user_resources</text>
<text x="271.5" y="4004">...</text>
<text x="271.5" y="4027">&lt; 2</text>
<text class="e" x="387.3" y="4027">0 rows</text>
</g>

<g id="rss_feeds">
<rect class="h" x="305.3" y="4063.3" width="106" height="23.5"/>
<rect class="w" x="305.3" y="4086.8" width="106" height="22.5"/>
<rect class="f" x="305.3" y="4109.3" width="31" height="23"/>
<rect class="f" x="336.3" y="4109.3" width="52" height="23"/>
<rect class="f" x="388.3" y="4109.3" width="23" height="23"/>
<text class="m" x="362.8" y="4078.8">rss_feeds</text>
<text x="309.8" y="4101.3">...</text>
<text x="309.8" y="4124.3">&lt; 1</text>
<text class="e" x="388.3" y="4124.3">2 rows</text>
</g>

<g id="schedule">
<rect class="h" x="305.3" y="4160.7" width="106" height="23.5"/>
<rect class="w" x="305.3" y="4184.2" width="106" height="22.5"/>
<rect class="f" x="305.3" y="4206.7" width="31" height="23"/>
<rect class="f" x="336.3" y="4206.7" width="52" height="23"/>
<rect class="f" x="388.3" y="4206.7" width="23" height="23"/>
<text class="m" x="362.3" y="4176.2">schedule</text>
<text x="309.8" y="4198.7">...</text>
<text x="309.8" y="4221.7">&lt; 2</text>
<text class="e" x="388.3" y="4221.7">0 rows</text>
</g>

<g id="scm">
<rect class="h" x="305.3" y="4294.4" width="106" height="23.5"/>
<rect class="w" x="305.3" y="4317.9" width="106" height="22.5"/>
<rect class="f" x="305.3" y="4340.4" width="31" height="23"/>
<rect class="f" x="336.3" y="4340.4" width="52" height="23"/>
<rect class="f" x="388.3" y="4340.4" width="23" height="23"/>
<text class="m" x="359.8" y="4309.9">scm</text>
<text x="309.8" y="4332.4">...</text>
<text x="309.8" y="4355.4">&lt; 1</text>
<text class="e" x="388.3" y="4355.4">2 rows</text>
</g>

<g id="seminar_user_schedule">
<rect class="h" x="275.3" y="4391.7" width="165" height="23.5"/>
<rect class="w" x="275.3" y="4415.2" width="165" height="22.5"/>
<rect class="f" x="275.3" y="4437.7" width="56" height="23"/>
<rect class="f" x="331.3" y="4437.7" width="54" height="23"/>
<rect class="f" x="385.3" y="4437.7" width="55" height="23"/>
<text class="m" x="366.5" y="4407.2">seminar_user_schedule</text>
<text x="279.8" y="4429.7">...</text>
<text x="279.8" y="4452.7">&lt; 1</text>
<text class="e" x="385.3" y="4452.7">0 rows</text>
</g>

<g id="statusgruppe_user">
<rect class="h" x="288.3" y="4488.3" width="139" height="23.5"/>
<rect class="w" x="288.3" y="4511.8" width="139" height="22.5"/>
<rect class="f" x="288.3" y="4534.3" width="44" height="23"/>
<rect class="f" x="332.3" y="4534.3" width="52" height="23"/>
<rect class="f" x="384.3" y="4534.3" width="43" height="23"/>
<text class="m" x="366.3" y="4503.8">statusgruppe_user</text>
<text x="292.8" y="4526.3">...</text>
<text x="292.8" y="4549.3">&lt; 2</text>
<text class="e" x="384.3" y="4549.3">3 rows</text>
</g>

<text x="16.7" y="4598">Generated by SchemaSpy</text>
</g>
</svg>
